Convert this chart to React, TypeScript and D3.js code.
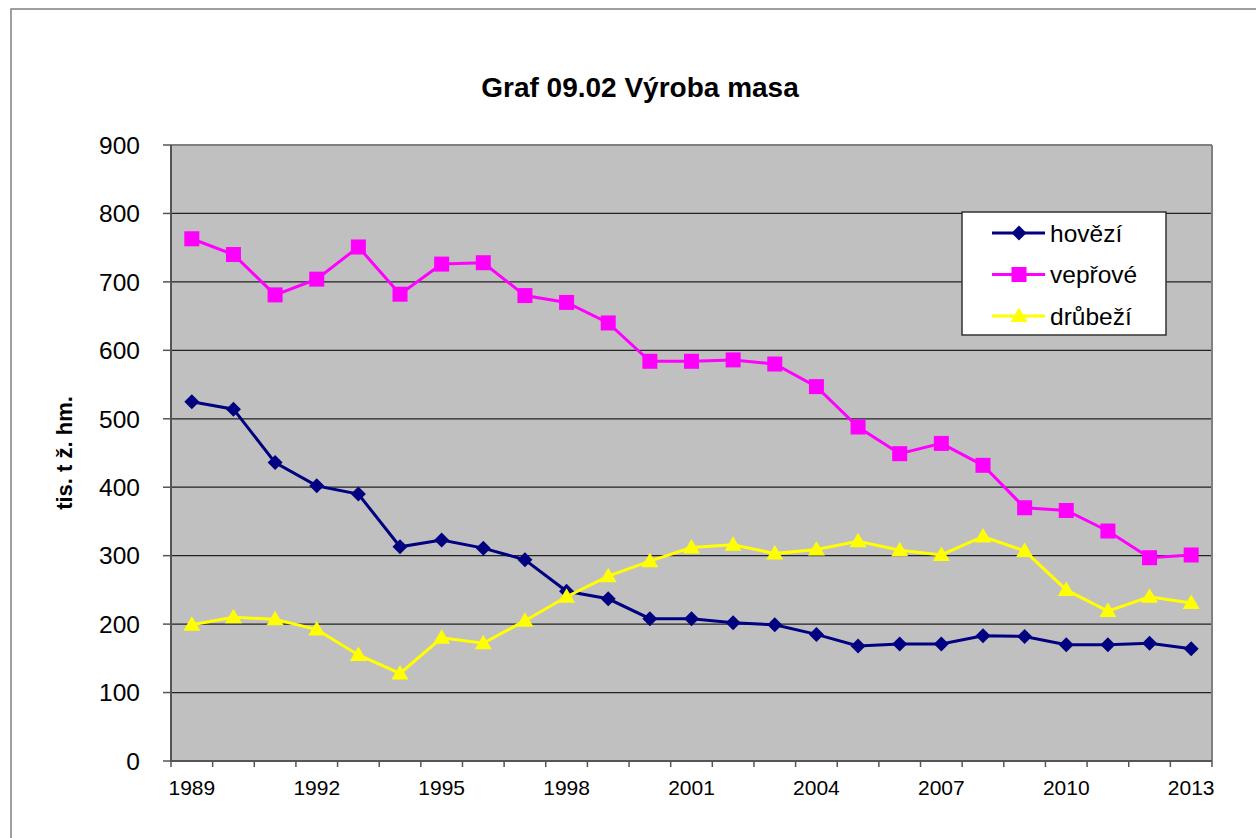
import React from "react";
import * as d3 from "d3";

const years = d3.range(1989, 2014).map(String);
const tickYears = ["1989", "1992", "1995", "1998", "2001", "2004", "2007", "2010", "2013"];
const yTicks = [0, 100, 200, 300, 400, 500, 600, 700, 800, 900];

const hovezi = [525, 514, 436, 402, 390, 313, 323, 311, 294, 248, 237, 208, 208, 202, 199, 185, 168, 171, 171, 183, 182, 170, 170, 172, 164];
const veprove = [763, 740, 681, 704, 751, 682, 726, 728, 680, 670, 640, 584, 584, 586, 580, 547, 488, 449, 464, 432, 370, 366, 336, 297, 301];
const drubezi = [199, 210, 207, 192, 155, 128, 180, 172, 205, 240, 270, 292, 312, 316, 303, 309, 321, 308, 301, 328, 307, 250, 219, 240, 231];

const series = [
  { name: "hovězí", values: hovezi, color: "#000080", marker: "diamond" },
  { name: "vepřové", values: veprove, color: "#FF00FF", marker: "square" },
  { name: "drůbeží", values: drubezi, color: "#FFFF00", marker: "triangle" },
];

const W = 1256;
const H = 838;
const plot = { left: 171, top: 145, right: 1212, bottom: 761 };
const font = "Arial, 'Liberation Sans', sans-serif";

function Marker({ type, x, y, color }) {
  if (type === "diamond") {
    const s = 7.5;
    return <path d={`M${x},${y - s}L${x + s},${y}L${x},${y + s}L${x - s},${y}Z`} fill={color} />;
  }
  if (type === "square") {
    const s = 7.5;
    return <rect x={x - s} y={y - s} width={2 * s} height={2 * s} fill={color} />;
  }
  // triangle
  return <path d={`M${x},${y - 8.5}L${x + 8.5},${y + 6}L${x - 8.5},${y + 6}Z`} fill={color} />;
}

export default function App() {
  const x = d3.scaleBand().domain(years).range([plot.left, plot.right]);
  const y = d3.scaleLinear().domain([0, 900]).range([plot.bottom, plot.top]);
  const cx = (yr) => x(yr) + x.bandwidth() / 2;

  const line = d3.line().x((d, i) => cx(years[i])).y((d) => y(d));

  const boundaries = d3.range(years.length + 1).map((i) => plot.left + i * x.step());

  return (
    <svg
      width={W}
      height={H}
      style={{ position: "absolute", left: 0, top: 0, background: "#fff" }}
      fontFamily={font}
    >
      {/* outer chart frame */}
      <rect x={11} y={9} width={1400} height={1000} fill="#fff" stroke="#808080" strokeWidth={1.5} />

      <text x={640} y={97} textAnchor="middle" fontSize={28} fontWeight="bold">
        Graf 09.02 Výroba masa
      </text>

      {/* plot area */}
      <rect
        x={plot.left}
        y={plot.top}
        width={plot.right - plot.left}
        height={plot.bottom - plot.top}
        fill="#C0C0C0"
      />
      {yTicks.slice(1, -1).map((t) => (
        <line key={t} x1={plot.left} x2={plot.right} y1={y(t)} y2={y(t)} stroke="#222" strokeWidth={1.3} />
      ))}
      <line x1={plot.left} x2={plot.right} y1={plot.top} y2={plot.top} stroke="#808080" strokeWidth={2} />
      <line x1={plot.right} x2={plot.right} y1={plot.top} y2={plot.bottom} stroke="#808080" strokeWidth={2} />

      {/* y axis */}
      <line x1={plot.left} x2={plot.left} y1={plot.top} y2={plot.bottom} stroke="#555" strokeWidth={2} />
      {yTicks.map((t) => (
        <g key={t}>
          <line x1={163} x2={plot.left} y1={y(t)} y2={y(t)} stroke="#555" strokeWidth={1.5} />
          <text x={140} y={y(t)} dy="0.36em" textAnchor="end" fontSize={24.5}>
            {t}
          </text>
        </g>
      ))}

      {/* x axis */}
      <line x1={plot.left} x2={plot.right} y1={plot.bottom} y2={plot.bottom} stroke="#555" strokeWidth={2} />
      {boundaries.map((b, i) => (
        <line key={i} x1={b} x2={b} y1={plot.bottom} y2={plot.bottom + 6} stroke="#555" strokeWidth={1.5} />
      ))}
      {tickYears.map((t) => (
        <text key={t} x={cx(t)} y={795} textAnchor="middle" fontSize={21}>
          {t}
        </text>
      ))}

      <text
        transform={`translate(72,${(plot.top + plot.bottom) / 2}) rotate(-90)`}
        textAnchor="middle"
        fontSize={22}
        fontWeight="bold"
      >
        tis. t ž. hm.
      </text>

      {/* series */}
      {series.map((s) => (
        <g key={s.name}>
          <path d={line(s.values)} fill="none" stroke={s.color} strokeWidth={3} />
          {s.values.map((v, i) => (
            <Marker key={i} type={s.marker} x={cx(years[i])} y={y(v)} color={s.color} />
          ))}
        </g>
      ))}

      {/* legend */}
      <rect x={962} y={212} width={204} height={123} fill="#fff" stroke="#333" strokeWidth={1.5} />
      {series.map((s, i) => {
        const ly = 233 + i * 41.5;
        return (
          <g key={s.name}>
            <line x1={992} x2={1045} y1={ly} y2={ly} stroke={s.color} strokeWidth={3} />
            <Marker type={s.marker} x={1019} y={ly} color={s.color} />
            <text x={1050} y={ly} dy="0.36em" fontSize={24.5}>
              {s.name}
            </text>
          </g>
        );
      })}
    </svg>
  );
}
